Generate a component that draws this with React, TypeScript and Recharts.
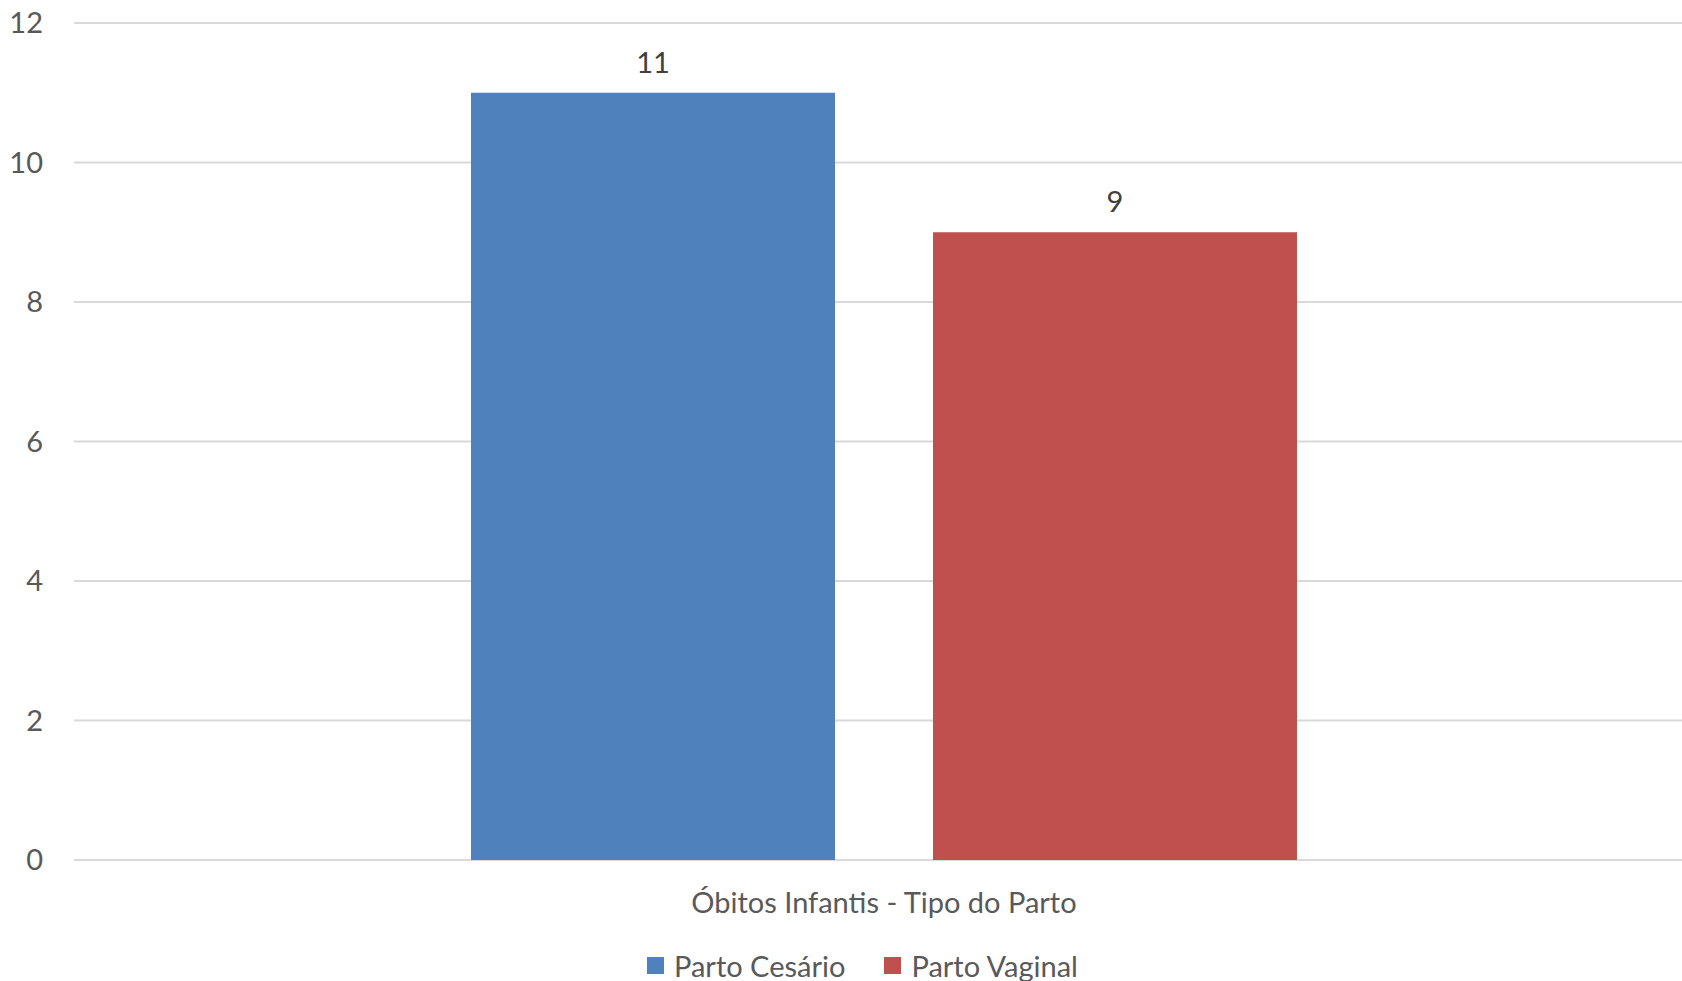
import { BarChart, Bar, XAxis, YAxis, CartesianGrid, Legend, LabelList } from 'recharts';

const categories = ['Óbitos Infantis - Tipo do Parto'];
const partoCesario = [11];
const partoVaginal = [9];
const yTicks = [0, 2, 4, 6, 8, 10, 12];

const data = categories.map((name, i) => ({
  name,
  cesario: partoCesario[i],
  vaginal: partoVaginal[i],
}));

const font = 'Lato, "Open Sans", sans-serif';

const renderLegend = (props: any) => {
  const { payload } = props;
  return (
    <div
      style={{
        display: 'flex',
        alignItems: 'center',
        height: 40,
        fontFamily: font,
        fontSize: 29,
        color: '#595959',
      }}
    >
      {(payload || []).map((entry: any, i: number) => (
        <div key={i} style={{ display: 'flex', alignItems: 'center', marginRight: 39 }}>
          <span style={{ width: 17, height: 17, background: entry.color, marginRight: 10 }} />
          <span>{entry.value}</span>
        </div>
      ))}
    </div>
  );
};

export default function App() {
  return (
    <div
      style={{
        position: 'absolute',
        left: 0,
        top: 0,
        width: 1682,
        height: 981,
        overflow: 'hidden',
        background: '#fff',
      }}
    >
      <BarChart
        width={1694}
        height={981}
        data={data}
        margin={{ top: 23, right: 0, bottom: 0, left: 0 }}
        barGap={98}
      >
        <CartesianGrid vertical={false} stroke="#d9d9d9" strokeWidth={2} />
        <XAxis
          dataKey="name"
          height={81}
          axisLine={false}
          tickLine={false}
          tickSize={0}
          tickMargin={32}
          tick={{ fill: '#595959', fontSize: 29, fontFamily: font }}
        />
        <YAxis
          width={74}
          domain={[0, 12]}
          ticks={yTicks}
          axisLine={false}
          tickLine={false}
          tickSize={0}
          tickMargin={31}
          tick={{ fill: '#595959', fontSize: 29, fontFamily: font }}
        />
        <Legend
          verticalAlign="bottom"
          content={renderLegend}
          wrapperStyle={{ left: 647, width: 'auto', top: 945 }}
        />
        <Bar dataKey="cesario" name="Parto Cesário" fill="#4f81bd" barSize={364} isAnimationActive={false}>
          <LabelList
            dataKey="cesario"
            position="top"
            offset={20}
            fill="#404040"
            fontSize={29}
            fontFamily={font}
          />
        </Bar>
        <Bar dataKey="vaginal" name="Parto Vaginal" fill="#c0504d" barSize={364} isAnimationActive={false}>
          <LabelList
            dataKey="vaginal"
            position="top"
            offset={20}
            fill="#404040"
            fontSize={29}
            fontFamily={font}
          />
        </Bar>
      </BarChart>
    </div>
  );
}
